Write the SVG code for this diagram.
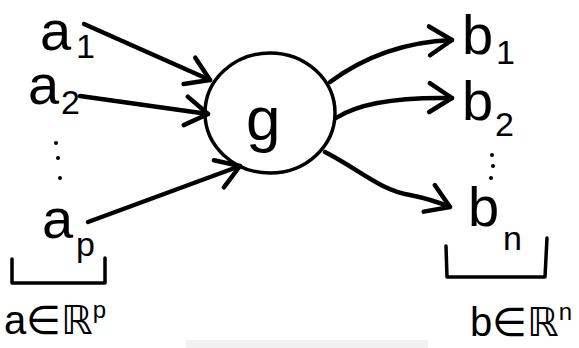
<svg xmlns="http://www.w3.org/2000/svg" width="579" height="348" viewBox="0 0 579 348">
<defs>
<style>
.t{font-family:"Liberation Sans","DejaVu Sans",sans-serif;fill:#000;}
.m{font-size:56px;}
.s{font-size:34px;}
.e{fill:none;stroke:#000;stroke-width:4.5;stroke-linecap:round;stroke-linejoin:round;}
.br{fill:none;stroke:#000;stroke-width:3.5;stroke-linecap:round;stroke-linejoin:round;}
.dot{fill:#000;}
</style>
<marker id="ah" markerWidth="8" markerHeight="8" refX="6" refY="4" orient="auto" markerUnits="strokeWidth">
<path d="M1,0.8 L6,4 L1,7.2" fill="none" stroke="#000" stroke-width="1" stroke-linecap="round" stroke-linejoin="round"/>
</marker>
</defs>
<rect width="579" height="348" fill="#fff"/>
<rect x="186" y="340" width="242" height="8" fill="#f1f1f1"/>
<g id="connectors">
<path class="e" d="M84,24 L210,80" marker-end="url(#ah)"/>
<path class="e" d="M80,96 L208,114" marker-end="url(#ah)"/>
<path class="e" d="M88,222 L240,166" marker-end="url(#ah)"/>
<path class="e" d="M330,82 C360,60 400,42 452,40" marker-end="url(#ah)"/>
<path class="e" d="M336,118 C360,102 400,97 452,98" marker-end="url(#ah)"/>
<path class="e" d="M325,152 C360,170 380,190 410,195 C425,198 438,202 450,207" marker-end="url(#ah)"/>
</g>
<g id="node-g">
<ellipse cx="270" cy="113" rx="65" ry="60" fill="none" stroke="#000" stroke-width="3.5"/>
<text class="t" x="246" y="140" font-size="62px">g</text>
</g>
<g id="node-a1"><text class="t m" x="40" y="50">a</text><text class="t s" x="76" y="58">1</text></g>
<g id="node-a2"><text class="t m" x="28" y="104">a</text><text class="t s" x="61" y="114">2</text></g>
<g id="dots-a"><circle class="dot" cx="56" cy="143" r="2"/><circle class="dot" cx="58" cy="158" r="2"/><circle class="dot" cx="60" cy="178" r="2"/></g>
<g id="node-ap"><text class="t m" x="42" y="238">a</text><text class="t s" x="76" y="256">p</text></g>
<g id="bracket-a"><path class="br" d="M12,259 L12,283 L105,283 L105,258"/></g>
<g id="label-a"><text class="t" x="4" y="334" font-size="40px">a∈ℝ<tspan font-size="24px" dy="-16">p</tspan></text></g>
<g id="node-b1"><text class="t m" x="462" y="54">b</text><text class="t s" x="496" y="64">1</text></g>
<g id="node-b2"><text class="t m" x="462" y="120">b</text><text class="t s" x="495" y="136">2</text></g>
<g id="dots-b"><circle class="dot" cx="492" cy="155" r="2"/><circle class="dot" cx="493" cy="166" r="2"/><circle class="dot" cx="491" cy="178" r="2"/></g>
<g id="node-bn"><text class="t m" x="468" y="226">b</text><text class="t s" x="503" y="250">n</text></g>
<g id="bracket-b"><path class="br" d="M446,246 L447,277 L545,277 L547,238"/></g>
<g id="label-b"><text class="t" x="470" y="336" font-size="40px">b∈ℝ<tspan font-size="24px" dy="-16">n</tspan></text></g>
</svg>
